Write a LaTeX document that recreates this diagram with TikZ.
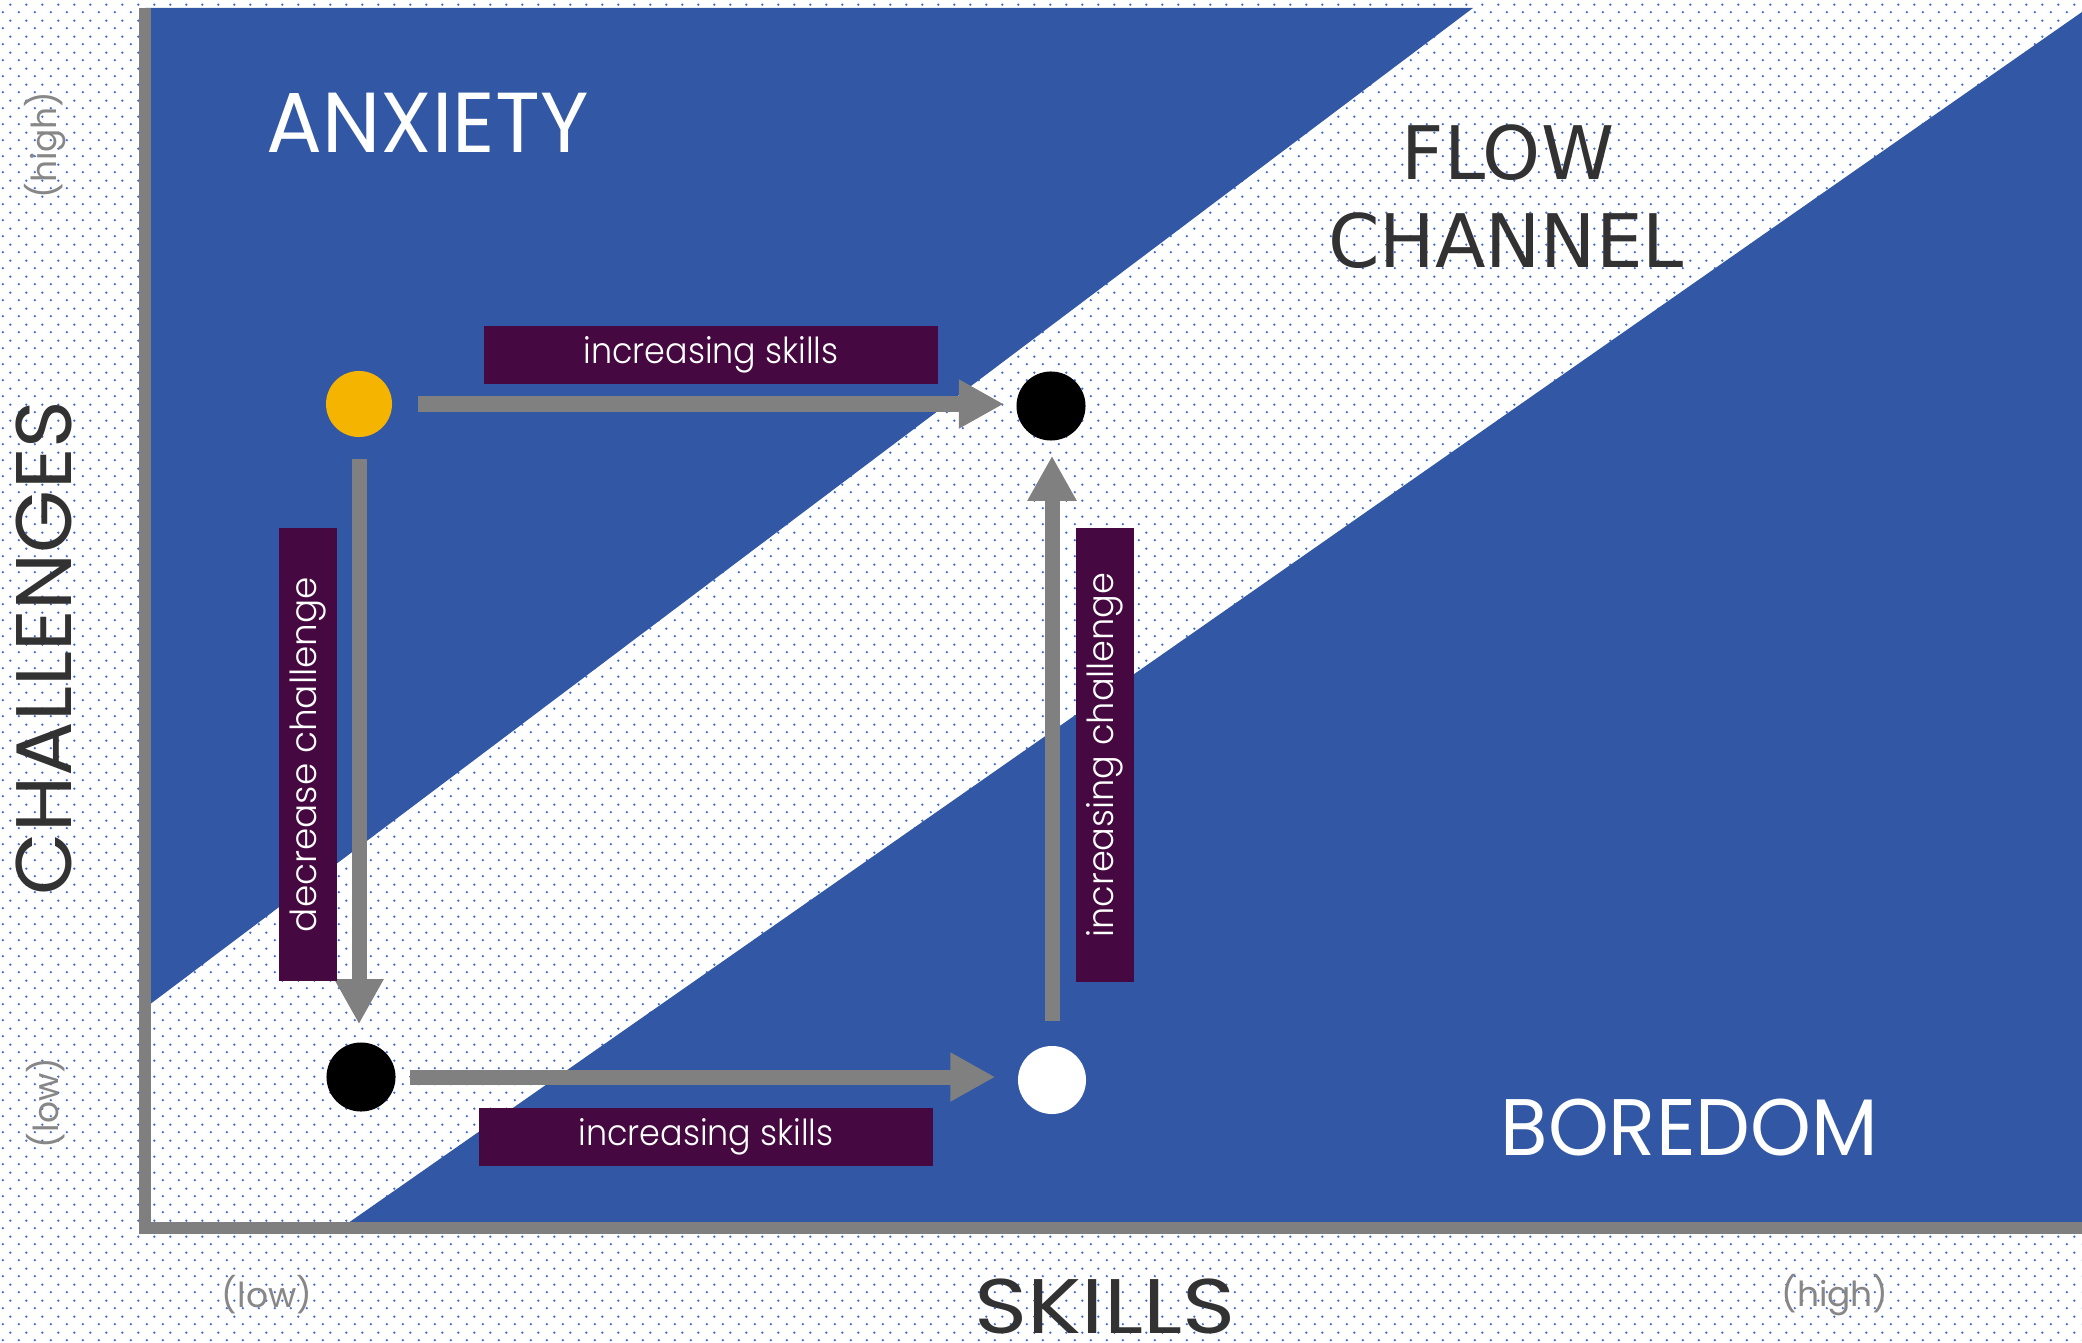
\documentclass[tikz,border=0pt]{standalone}
\usepackage{fontspec}
\setmainfont{Poppins}
\IfFontExistsTF{Poppins Light}{\newfontfamily\boxfont{Poppins Light}}{\newfontfamily\boxfont{Poppins}}
\newfontfamily\dejavu{DejaVu Sans}
\usetikzlibrary{arrows.meta,patterns}
\definecolor{flowblue}{RGB}{50,88,165}
\definecolor{boxpurple}{RGB}{69,8,64}
\definecolor{arrgray}{RGB}{128,128,128}
\definecolor{axisgray}{RGB}{127,127,127}
\definecolor{sunyellow}{RGB}{245,180,0}
\definecolor{darktext}{RGB}{50,50,50}
\definecolor{lblgray}{RGB}{135,135,135}
\definecolor{dotblue}{RGB}{72,112,212}
\pgfdeclarepatternformonly{bgdots}{\pgfqpoint{0pt}{0pt}}{\pgfqpoint{4.5525pt}{4.5525pt}}{\pgfqpoint{4.5525pt}{4.5525pt}}{%
  \pgfpathcircle{\pgfqpoint{1.138pt}{1.138pt}}{0.38pt}%
  \pgfpathcircle{\pgfqpoint{3.414pt}{3.414pt}}{0.38pt}%
  \pgfusepath{fill}}
\begin{document}
\begin{tikzpicture}[x=0.01cm,y=-0.01cm,
  dotnode/.style={circle,inner sep=0,minimum size=0.69cm},
  arr/.style={draw=arrgray,line width=0.15cm,-{Triangle[length=0.45cm,width=0.46cm]}},
  lbl/.style={fill=boxpurple,text=white,inner sep=0,font=\boxfont\fontsize{10.2pt}{12pt}\selectfont},
  hbox/.style={lbl,minimum width=4.54cm,minimum height=0.58cm},
  vbox/.style={lbl,rotate=90,minimum width=4.53cm,minimum height=0.58cm},
  bigtext/.style={inner sep=0,anchor=base west},
  paren/.style={inner sep=0,text=lblgray,font=\fontsize{9.8pt}{11pt}\selectfont}
]
\useasboundingbox (0,0) rectangle (2082,1343);
\fill[white] (0,0) rectangle (2082,1343);
\fill[pattern=bgdots,pattern color=dotblue] (0,0) rectangle (2082,1343);
% blue regions
\fill[flowblue] (145,8) -- (1473,8) -- (145,1008) -- cycle;
\fill[flowblue] (341,1228) -- (2082,12) -- (2082,1228) -- cycle;
% axes
\draw[axisgray,line width=0.125cm] (145,8) -- (145,1228) -- (2082,1228);
% region labels
\node[bigtext,text=white,font=\fontsize{24.2pt}{28pt}\selectfont] (anx) at (266,153) {\scalebox{0.975}[1]{ANXIETY}};
\node[bigtext,anchor=base,text=darktext,font=\dejavu\fontsize{21pt}{25pt}\selectfont] (flow) at (1508,180) {FLOW};
\node[bigtext,anchor=base,text=darktext,font=\dejavu\fontsize{21pt}{25pt}\selectfont] (chan) at (1506,268) {CHANNEL};
\node[bigtext,text=white,font=\fontsize{22.8pt}{26pt}\selectfont] (bore) at (1500,1155) {\scalebox{0.965}[1]{BOREDOM}};
% axis labels
\node[bigtext,anchor=base,text=darktext,font=\fontsize{22pt}{26pt}\selectfont] (skills) at (1105,1333) {\scalebox{1.17}[1]{SKILLS}};
\node[bigtext,anchor=base,rotate=90,text=darktext,font=\fontsize{22.4pt}{26pt}\selectfont] (chal) at (71,648) {\scalebox{1.03}[1]{CHALLENGES}};
\node[paren,rotate=90] (yhigh) at (45.5,145) {(high)};
\node[paren,rotate=90] (ylow) at (45.5,1103) {(low)};
\node[paren] (xlow) at (267,1295) {(low)};
\node[paren] (xhigh) at (1835,1295) {(high)};
% dots
\node[dotnode,fill=sunyellow,minimum size=0.66cm] (yellow) at (359,404) {};
\node[dotnode,fill=black] (tr) at (1051,406) {};
\node[dotnode,fill=black] (bl) at (361,1077) {};
\node[dotnode,fill=white,minimum size=0.68cm] (wh) at (1052,1080) {};
% arrows
\draw[arr,shorten <=0.25cm,shorten >=0.12cm] (yellow.east) -- (yellow.east -| tr.west);
\draw[arr,shorten <=0.21cm,shorten >=0.175cm] (yellow.south) -- (yellow.south |- bl.north);
\draw[arr,shorten <=0.135cm,shorten >=0.22cm] (bl.east) -- (bl.east -| wh.west);
\draw[arr,shorten <=0.24cm,shorten >=0.145cm] (wh.north) -- (wh.north |- tr.south);
% label boxes
\node[hbox] (b1) at (711,355) {\raisebox{-0.04cm}{\scalebox{0.93}[1]{increasing skills}}};
\node[hbox] (b2) at (706,1137) {\raisebox{-0.04cm}{\scalebox{0.93}[1]{increasing skills}}};
\node[vbox] (b3) at (308,754.5) {\raisebox{-0.04cm}{\scalebox{1.0}[1]{decrease challenge}}};
\node[vbox] (b4) at (1105,755) {\raisebox{-0.04cm}{\scalebox{0.98}[1]{increasing challenge}}};
\end{tikzpicture}
\end{document}
